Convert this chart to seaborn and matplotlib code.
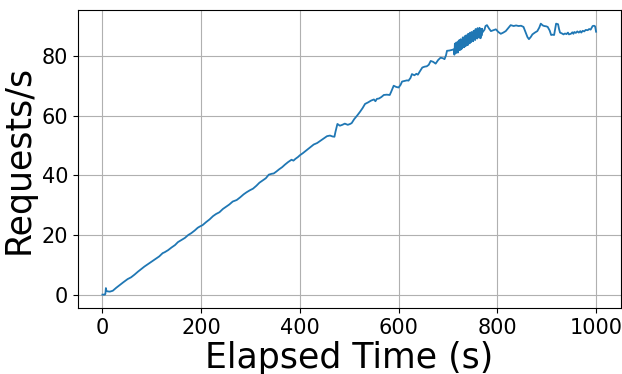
import matplotlib
matplotlib.use("Agg")
import matplotlib.pyplot as plt
import seaborn as sns
import pandas as pd

time_s = [0, 5, 6, 7, 8, 10, 15, 21, 28, 35, 42, 51, 58, 65, 72, 78, 85, 92, 100, 108,
          115, 122, 126, 133, 140, 147, 153, 160, 167, 174, 180, 187, 193, 197, 203, 210,
          217, 224, 230, 237, 244, 250, 257, 264, 272, 279, 286, 292, 299, 305, 312, 318,
          325, 331, 337, 343, 347, 352, 358, 364, 370, 376, 383, 387, 391, 396, 400, 406,
          412, 421, 428, 435, 441, 448, 455, 461, 466, 470, 472, 476, 481, 486, 491, 497,
          502, 505, 510, 516, 522, 527, 532, 538, 544, 550, 553, 556, 560, 565, 570, 576,
          582, 585, 590, 595, 600, 604, 607, 612, 617, 620, 624, 627, 632, 636, 639, 643,
          648, 653, 657, 661, 665, 670, 675, 680, 685, 690, 693, 696, 698, 703, 708,
          712, 713, 714, 715, 716, 717, 718, 719, 720, 721, 722, 723, 724, 725, 726, 727,
          728, 729, 730, 731, 732, 733, 734, 735, 736, 737, 738, 739, 740, 741, 742, 743,
          744, 745, 746, 747, 748, 749, 750, 751, 752, 753, 754, 755, 756, 757, 758, 759,
          760, 761, 762, 763, 764, 765, 766, 767, 768, 769, 770,
          774, 776, 779, 783, 787, 792, 797, 802, 807, 812, 817, 822, 827, 833, 838, 843,
          848, 853, 857, 861, 864, 868, 871, 876, 881, 885, 888, 892, 895, 899, 902, 906,
          909, 912, 915, 917, 919, 921, 923, 925, 927, 931, 934, 937, 940, 943, 945, 949,
          952, 954, 956, 959, 962, 965, 968, 970, 973, 976, 979, 983, 986, 989, 993, 996,
          998, 1000]

requests = [0.0, 0.0, 0.3, 2.2, 1.3, 1.1, 1.0, 1.3, 2.3, 3.2, 4.1, 5.2, 5.8, 6.7, 7.7, 8.5,
            9.4, 10.2, 11.1, 12.0, 12.8, 13.9, 14.2, 14.9, 15.8, 16.6, 17.6, 18.3, 19.0,
            20.0, 20.6, 21.5, 22.4, 22.8, 23.3, 24.3, 25.2, 26.3, 27.0, 27.6, 28.7, 29.4,
            30.2, 31.2, 31.7, 32.6, 33.6, 34.3, 35.0, 35.5, 36.5, 37.5, 38.3, 39.0, 40.2,
            40.5, 40.6, 41.2, 42.0, 42.7, 43.6, 44.4, 45.2, 44.9, 45.5, 46.1, 46.7, 47.4,
            48.2, 49.4, 50.3, 50.8, 51.5, 52.3, 53.1, 53.3, 53.0, 52.9, 54.5, 57.2, 56.6,
            56.9, 57.3, 56.9, 57.2, 57.5, 58.8, 60.0, 61.3, 62.5, 63.9, 64.4, 65.0, 65.4,
            64.8, 65.6, 65.7, 66.2, 66.9, 67.0, 66.9, 68.0, 70.0, 69.6, 69.4, 70.3, 71.4,
            71.6, 71.8, 71.7, 72.6, 73.9, 73.5, 74.0, 73.7, 74.8, 76.1, 76.4, 76.5, 77.0,
            78.3, 78.0, 77.4, 78.6, 79.4, 79.2, 78.9, 80.2, 81.7, 81.8, 82.0,
            82.2, 80.4, 84.1, 82.5, 80.9, 84.5, 81.6, 83.2, 81.1, 84.9, 82.7, 85.3, 81.9,
            83.4, 85.6, 82.2, 84.1, 82.6, 86.2, 83.1, 85.0, 82.9, 86.6, 84.0, 83.3, 86.9,
            84.5, 86.0, 83.6, 87.4, 84.9, 86.4, 84.2, 87.8, 85.3, 84.6, 88.0, 85.7, 87.1,
            84.9, 88.4, 86.2, 87.5, 85.3, 89.0, 86.4, 88.1, 85.8, 89.3, 86.9, 88.5, 86.1,
            89.4, 87.2, 85.9, 88.9, 86.8, 89.1, 87.9,
            88.8, 90.0, 90.3, 89.2, 88.3, 88.6, 88.9, 88.0, 87.4, 87.8, 88.3, 89.3, 90.3,
            90.0, 90.2, 90.0, 90.1, 89.7, 88.0, 86.3, 85.6, 86.4, 87.2, 87.8, 88.3, 89.5,
            90.8, 90.2, 90.0, 89.9, 89.7, 88.5, 87.0, 87.1, 87.0, 89.0, 90.8, 90.7, 90.6,
            89.0, 87.8, 87.5, 87.2, 87.5, 87.3, 87.8, 87.2, 87.4, 87.9, 87.4, 88.0, 87.7,
            88.2, 87.8, 88.3, 87.8, 88.4, 88.2, 88.7, 88.6, 89.0, 88.8, 90.0, 90.1, 89.9,
            88.1]

x_ticks = [0, 200, 400, 600, 800, 1000]
y_ticks = [0, 20, 40, 60, 80]

df = pd.DataFrame({"t": time_s, "r": requests})

fig, ax = plt.subplots(figsize=(6.22, 3.74), dpi=100)
fig.subplots_adjust(left=0.125, right=0.998, top=0.973, bottom=0.176)
sns.lineplot(data=df, x="t", y="r", ax=ax, color="#1f77b4", linewidth=1.3, sort=False)
ax.set_xticks(x_ticks)
ax.set_yticks(y_ticks)
ax.tick_params(labelsize=15)
ax.grid(True, color="#b0b0b0", linewidth=0.8)
ax.set_axisbelow(True)
ax.set_xlabel("Elapsed Time (s)", fontsize=25, labelpad=2)
ax.set_ylabel("Requests/s", fontsize=25, labelpad=4)
fig.savefig("out.png", dpi=100)
